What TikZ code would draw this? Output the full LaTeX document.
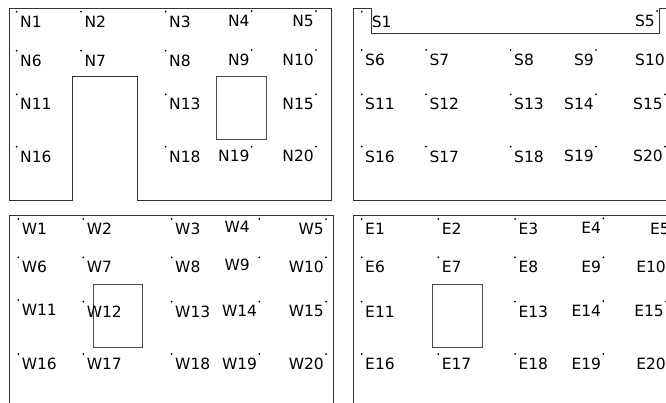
\documentclass[tikz,border=0pt]{standalone}
\usepackage{fontspec}
\setmainfont{DejaVu Sans}

\begin{document}
\begin{tikzpicture}[
  x=1pt, y=-1pt,
  wall/.style={draw=black!80, line width=0.8pt},
  room/.style={draw=black!70, line width=0.8pt},
  spot/.style={fill=black},
  tag/.style={inner sep=0pt, font=\fontsize{15.5}{18}\selectfont},
  tagl/.style={tag, anchor=north west, xshift=3.3pt, yshift=-3.8pt},
  tagw/.style={tag, anchor=north west, xshift=10pt, yshift=-3.8pt},
  tagr/.style={tag, anchor=north east, xshift=-2pt, yshift=-3.5pt},
  tagf/.style={tag, anchor=north east, xshift=-9.3pt, yshift=-1.5pt}
]
\useasboundingbox (0,0) rectangle (666,402);

% frames
\draw[wall] (9,200) -- (9,8.3) -- (331.7,8.3) -- (331.7,200) -- (137,200)
  -- (137,76.3) -- (72.7,76.3) -- (72.7,200) -- cycle;
\draw[room] (216.7,76.3) rectangle (266.7,139.3);
\draw[wall] (353.3,200) -- (353.3,8.3) -- (371.7,8.3) -- (371.7,33.3)
  -- (659.3,33.3) -- (659.3,8.3) -- (690,8.3) -- (690,200) -- cycle;
\draw[wall] (9,420) -- (9,215.7) -- (333.3,215.7) -- (333.3,420);
\draw[room] (93.3,284.3) rectangle (142.7,347.3);
\draw[wall] (353.3,420) -- (353.3,215.7) -- (690,215.7);
\draw[room] (432.7,284.3) rectangle (482.7,347.3);

% points
\foreach \n/\x/\y/\s in {
  N1/16.7/11.7/l, N2/81/11.7/l, N3/165.7/11.7/l, N4/251.7/11/r, N5/316/11/r,
  N6/16.7/50.7/l, N7/81/50.7/l, N8/165.7/50.7/l, N9/251.7/50/r, N10/316/50/r,
  N11/16.7/94.3/l, N13/165.7/94.3/l, N15/316/94.3/r,
  N16/16.7/146.7/l, N18/165.7/146.7/l, N19/251.7/146.7/r, N20/316/146.7/r,
  S1/361.7/11.7/w, S5/657/11/r,
  S6/361.7/50/l, S7/426/50/l, S8/510.7/50/l, S9/596/50/r, S10/667/50/r,
  S11/361.7/94.3/l, S12/426/94.3/l, S13/510.7/94.3/l, S14/596/94.3/r, S15/665/94.3/r,
  S16/361.7/146.7/l, S17/426/146.7/l, S18/510.7/146.7/l, S19/596/146.7/r, S20/665/146.7/r,
  W1/18.3/219/l, W2/83.3/219/l, W3/171.7/219/l, W4/259.3/219/f, W5/326/219/r,
  W6/18.3/257.3/l, W7/83.3/257.3/l, W8/171.7/257.3/l, W9/259.3/257.3/f, W10/326/257.3/r,
  W11/18.3/300/l, W12/83.3/301.7/l, W13/171.7/301.7/l, W14/259.3/301.7/r, W15/326/301.7/r,
  W16/18.3/354/l, W17/83.3/354/l, W18/171.7/354/l, W19/259.3/354/r, W20/326/354/r,
  E1/361.7/219/l, E2/438.3/219/l, E3/515/219/l, E4/603.3/218.3/r, E5/672/219/r,
  E6/361.7/257.3/l, E7/438.3/257.3/l, E8/515/257.3/l, E9/603.3/257.3/r, E10/668/257.3/r,
  E11/361.7/301.7/l, E13/515/301.7/l, E14/603.3/301/r, E15/666/301.7/r,
  E16/361.7/354/l, E17/438.3/354/l, E18/515/354/l, E19/603.3/354/r, E20/668/354/r}{
  \coordinate (p\n) at (\x,\y);
  \fill[spot] (p\n) circle (1pt);
  \node[tag\s] (\n) at (p\n) {\n};
}
\end{tikzpicture}
\end{document}
